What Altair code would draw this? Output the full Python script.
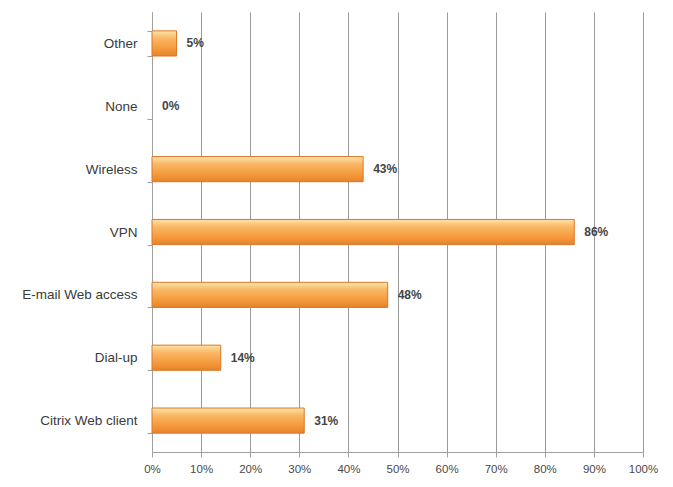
import altair as alt
import pandas as pd

categories = ["Other", "None", "Wireless", "VPN", "E-mail Web access", "Dial-up", "Citrix Web client"]
values = [5, 0, 43, 86, 48, 14, 31]

df = pd.DataFrame({"cat": categories, "val": values})
df["label"] = df["val"].astype(str) + "%"

y_enc = alt.Y("cat:N", sort=categories, title=None,
              scale=alt.Scale(paddingInner=0.6, paddingOuter=0.3),
              axis=alt.Axis(tickBand="extent", labelFontSize=13.5, labelColor="#3a3a3a",
                            labelFont="Liberation Sans", labelPadding=10, tickSize=5,
                            domainColor="#a0a0a0", tickColor="#a0a0a0", grid=False))

x_enc = alt.X("val:Q", title=None,
              scale=alt.Scale(domain=[0, 100], nice=False),
              axis=alt.Axis(values=list(range(0, 101, 10)), labelExpr="datum.value + '%'",
                            labelFontSize=11.5, labelColor="#4a4a4a", labelFont="Liberation Sans",
                            labelFlush=False,
                            gridColor="#9a9a9a", gridWidth=1, domainColor="#a0a0a0",
                            tickColor="#a0a0a0", tickSize=5, labelPadding=6))

grad = alt.Gradient(gradient="linear", x1=0, y1=0, x2=0, y2=1,
                    stops=[alt.GradientStop(color="#fde3a8", offset=0),
                           alt.GradientStop(color="#f9b765", offset=0.3),
                           alt.GradientStop(color="#f59a3c", offset=0.7),
                           alt.GradientStop(color="#e5832a", offset=1)])

bars = alt.Chart(df).transform_filter("datum.val > 0").mark_bar(
    color=grad, stroke="#d9782a", strokeWidth=1).encode(x=x_enc, y=y_enc)

text = alt.Chart(df).mark_text(align="left", dx=10, fontSize=12, fontWeight="bold",
                               color="#444444", font="Liberation Sans").encode(
    x=alt.X("val:Q"), y=alt.Y("cat:N", sort=categories), text="label:N")

chart = (bars + text).properties(
    width=491, height=440,
    autosize=alt.AutoSizeParams(type="none"),
    padding={"left": 144, "top": 4, "right": 20, "bottom": 30},
    background="white"
).configure_view(stroke=None)

chart.save("out.html", embed_options={"renderer": "svg", "actions": False})
